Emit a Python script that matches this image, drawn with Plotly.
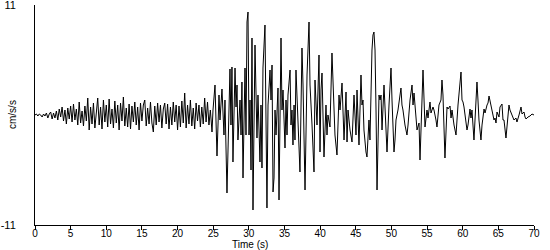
import numpy as np
import plotly.graph_objects as go

# Early (pre-event) noise, sampled every 0.2 s from 0 to 24.6 s
early_dt = 0.2
early_vals = [
    0, 0.1, -0.1, 0.1, 0, -0.2, 0.1, -0.1,
    0.2, -0.3, 0.1, 0.3, -0.4, 0.2, -0.3, 0.4,
    -0.5, 0.6, -0.2, 0.8, -0.6, 0.5, -0.9, 0.7, -0.4, 0.9,
    -0.7, 1.1, -0.5, 0.6, -1.0, 1.3, -0.8, 0.4, -1.1, 0.9,
    -0.6, 1.7, -1.5, 0.8, -0.9, 1.2, -1.3, 0.5, 1.7, -1.0,
    0.8, -1.4, 1.5, -0.7, 1.0, -1.2, 1.6, -0.9, 0.6, -1.3,
    1.4, -0.8, 1.0, -1.5, 1.2, -0.6, 1.8, -1.1, 0.7, -1.2,
    1.1, -1.4, 0.9, -0.7, 1.3, -1.0, 0.8, -1.5, 1.2, -0.6,
    1.0, 1.5, -1.1, 0.7, -0.9, 1.3, -0.8, -1.7, 0.9, -1.0,
    1.2, -0.7, 1.0, -1.3, 0.6, 1.2, -0.9, 1.1, -1.4, 0.8,
    -1.0, 1.3, -0.7, 1.0, -1.5, 0.9, -1.2, 1.4, -0.8, 2.2,
    -1.3, 1.0, -0.9, 1.5, -1.1, 0.7, -1.4, 1.2, -0.6, 1.0,
    -1.2, 0.8, -0.9, 1.7, -0.7, 1.3, -1.0, 0.5,
]
early_times = [round(i * early_dt, 2) for i in range(len(early_vals))]

# Strong motion and coda: times (s) and accelerations (cm/s/s) read at turning points
main_times = [
    24.83, 24.97, 25.25, 25.53, 25.81, 25.95, 26.23, 26.51, 26.65, 26.93,
    27.21, 27.35, 27.49, 27.63, 27.77, 28.06, 28.20, 28.34, 28.47, 28.76,
    28.90, 29.03, 29.18, 29.46, 29.60, 29.74, 29.88, 30.02, 30.16, 30.30,
    30.44, 30.58, 30.86, 31.14, 31.28, 31.56, 31.70, 31.84, 31.98, 32.26,
    32.54, 32.69, 32.97, 33.11, 33.25, 33.39, 33.53, 33.67, 33.81, 33.95,
    34.09, 34.23, 34.51, 34.65, 34.79, 35.07, 35.21, 35.35, 35.49, 35.78,
    35.91, 36.05, 36.19, 36.34, 36.47, 36.61, 36.89, 37.17, 37.45, 37.60,
    37.88, 38.16, 38.44, 38.58, 38.86, 39.14, 39.28, 39.56, 39.84, 39.98,
    40.12, 40.26, 40.54, 40.82, 40.96, 41.10, 41.38, 41.66, 41.80, 41.94,
    42.08, 42.36, 42.65, 42.79, 43.07, 43.35, 43.49, 43.63, 43.77, 43.91,
    44.19, 44.47, 44.75, 45.03, 45.17, 45.45, 45.73, 45.87, 46.01, 46.15,
    46.43, 46.57, 46.85, 46.99, 47.27, 47.41, 47.55, 47.70, 47.84, 47.98,
    48.26, 48.40, 48.54, 48.68, 48.96, 49.10, 49.24, 49.38, 49.66, 49.94,
    50.08, 50.22, 50.36, 50.50, 50.64, 50.92, 51.20, 51.34, 51.48, 51.62,
    51.90, 52.18, 52.33, 52.61, 52.89, 53.03, 53.17, 53.45, 53.59, 53.87,
    54.01, 54.43, 54.71, 54.99, 55.13, 55.41, 55.55, 55.83, 55.97, 56.25,
    56.39, 56.67, 56.95, 57.09, 57.23, 57.51, 57.65, 57.80, 57.94, 58.22,
    58.36, 58.50, 58.78, 59.06, 59.34, 59.62, 59.76, 59.90, 60.04, 60.18,
    60.46, 60.60, 60.74, 61.02, 61.16, 61.30, 61.58, 61.72, 62.00, 62.14,
    62.28, 62.56, 62.71, 62.99, 63.13, 63.41, 63.55, 63.69, 63.97, 64.11,
    64.39, 64.53, 64.67, 64.81, 65.09, 65.23, 65.51, 65.65, 65.79, 66.07,
    66.49, 66.63, 67.05, 67.19, 67.47, 67.61, 67.90, 68.18, 68.32, 68.60,
    68.74, 68.88, 69.16, 69.44, 69.72, 70.00,
]
main_vals = [
    -1.7, 0.5, 3.0, -4.1, 2.0, -0.5, 2.6, -2.0, 1.5, -7.8,
    1.0, 4.6, -1.0, 4.8, -4.7, 4.7, 0.8, 3.0, -2.5, 1.5,
    -2.0, 3.3, -6.3, 4.7, -2.0, 9.3, 10.3, -2.0, 1.5, -5.5,
    7.7, -9.5, 7.0, -2.3, 2.0, -4.7, 1.0, -5.3, 4.7, 9.0,
    -9.3, 1.0, 4.5, 1.5, 5.0, -7.7, -6.3, 0.5, -2.0, 1.5,
    2.7, -8.5, 7.7, 0.5, 2.5, -3.3, 1.5, -2.0, 2.0, 4.5,
    -1.0, 0.5, -3.0, 1.0, -2.5, 4.5, -1.0, -5.7, 6.7, 3.0,
    -7.5, 4.0, 9.3, 3.0, -1.0, -5.7, 3.5, -1.0, 6.0, -3.7,
    2.5, 4.2, -4.2, 1.0, -2.0, 0.0, -1.2, 6.2, 3.5, 0.0,
    -2.0, -4.0, 2.0, 0.5, 3.2, -2.5, -0.5, 2.3, -2.7, 0.5,
    -1.5, -2.7, 2.0, -2.0, 2.5, -3.0, 4.0, 1.0, 1.5, -1.5,
    -3.7, -4.2, -0.5, -2.5, 6.5, 8.0, 8.3, 6.5, 0.5, -7.5,
    2.0, 1.5, 2.0, -1.5, 3.0, 1.0, -0.5, -3.7, 1.0, 4.7,
    1.5, -0.5, -3.7, -2.5, -0.5, 0.5, 1.8, 2.7, 1.0, 0.5,
    -1.0, -2.0, -1.0, 1.5, 3.0, 1.0, 2.2, -1.0, -1.5, -0.8,
    -4.5, 4.5, -1.2, 0.5, -0.3, 1.3, 0.2, 0.8, 0.5, -0.5,
    -1.2, 1.0, 1.5, 3.5, 2.0, -4.3, -1.0, 0.8, 0.6, 0.9,
    -0.3, 0.5, -1.0, -2.0, 1.0, 3.5, 4.3, 1.5, 1.3, 0.8,
    -0.5, -1.5, -1.0, 0.6, -0.3, 0.5, -2.5, 0.0, 3.3, 1.5,
    -0.5, -2.5, -1.0, 0.6, 0.2, 1.0, 1.2, 1.9, 0.8, 0.2,
    -0.5, -0.3, -0.8, 0.3, -0.2, 0.8, 1.1, -0.5, -0.5, -2.3,
    1.0, 0.5, -0.3, -0.5, -0.3, -0.7, 0.0, 0.8, 0.1, 0.3,
    -0.2, -0.4, -0.2, -0.1, 0.1, 0.0,
]

times = early_times + main_times
accel = early_vals + main_vals

x_ticks = [0, 5, 10, 15, 20, 25, 30, 35, 40, 45, 50, 55, 60, 65, 70]
y_ticks = [-11, 11]

font = dict(family="Liberation Sans, Arial, sans-serif", size=11, color="black")
small = dict(family="Liberation Sans, Arial, sans-serif", size=10, color="black")

fig = go.Figure()
fig.add_trace(go.Scatter(x=times, y=accel, mode="lines",
                         line=dict(color="black", width=1), hoverinfo="skip"))

fig.update_layout(
    width=550, height=250,
    margin=dict(l=35, r=16, t=5, b=25),
    paper_bgcolor="white", plot_bgcolor="white",
    showlegend=False,
    font=font,
)
fig.update_xaxes(
    range=[0, 70], tickvals=x_ticks, ticktext=[str(v) for v in x_ticks],
    showgrid=False, zeroline=False, showline=True, linecolor="black", linewidth=1,
    ticks="outside", ticklen=4, tickcolor="black", tickfont=small,
    ticklabelstandoff=-5, automargin=False,
)
fig.update_yaxes(
    range=[-11.001, 11.001], tickvals=y_ticks, ticktext=[str(v) for v in y_ticks],
    showgrid=False, zeroline=False, showline=True, linecolor="black", linewidth=1,
    ticks="", tickfont=font, ticklabelstandoff=16, ticklabeloverflow="allow",
    automargin=False,
)
fig.add_annotation(text="cm/s/s", xref="paper", yref="paper", x=0, y=0.5,
                   xshift=-23, textangle=-90, showarrow=False, font=small,
                   xanchor="center", yanchor="middle")
fig.add_annotation(text="Time (s)", xref="x", yref="paper", x=30.2, y=0,
                   yshift=-19.5, showarrow=False, font=small,
                   xanchor="center", yanchor="middle")

fig.write_html("out.html")
